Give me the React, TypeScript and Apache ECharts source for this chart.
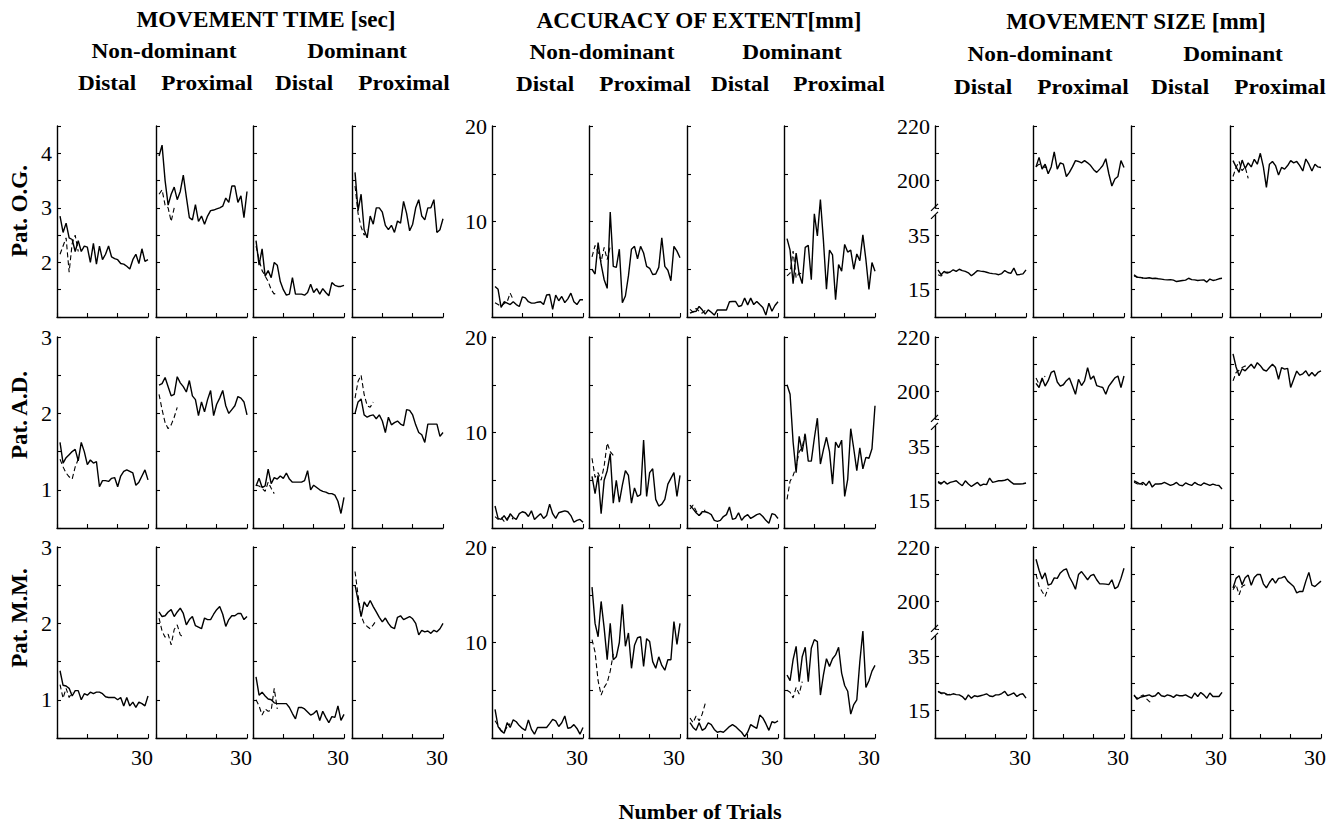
import React, { useEffect, useRef } from "react";
import * as echarts from "echarts";

const SERIF = "Liberation Serif, Times New Roman, serif";

const TRIALS = [1, 2, 3, 4, 5, 6, 7, 8, 9, 10, 11, 12, 13, 14, 15, 16, 17, 18, 19, 20, 21, 22, 23, 24, 25, 26, 27, 28, 29, 30];

const PATIENTS = ["Pat. O.G.", "Pat. A.D.", "Pat. M.M."];
const MEASURES = ["MOVEMENT TIME [sec]", "ACCURACY OF EXTENT[mm]", "MOVEMENT SIZE [mm]"];
const HANDS = ["Non-dominant", "Dominant"];
const JOINTS = ["Distal", "Proximal", "Distal", "Proximal"];
const X_LABELS: Record<string, string> = { "30": "30" };

// ---- Movement time [sec] ----
const MT_OG_SOLID = [
  [2.85, 2.55, 2.72, 2.45, 2.42, 2.2, 2.4, 2.2, 2.3, 2.28, 2.0, 2.35, 1.97, 2.3, 2.05, 2.15, 2.3, 2.1, 2.07, 2.05, 1.98, 1.97, 1.93, 1.88, 2.05, 2.15, 1.98, 2.25, 2.02, 2.05],
  [3.95, 4.15, 3.5, 3.05, 3.25, 3.38, 3.15, 3.3, 3.6, 3.2, 2.82, 2.78, 3.06, 2.75, 2.85, 2.7, 2.85, 2.95, 2.96, 2.98, 3.0, 3.03, 3.18, 3.1, 3.4, 3.4, 3.1, 3.22, 2.82, 3.3],
  [2.4, 1.95, 2.25, 1.75, 1.85, 1.72, 2.0, 1.95, 1.65, 1.5, 1.4, 1.42, 1.72, 1.42, 1.42, 1.42, 1.4, 1.45, 1.6, 1.45, 1.52, 1.42, 1.52, 1.45, 1.39, 1.63, 1.58, 1.56, 1.56, 1.58],
  [3.65, 2.95, 3.25, 2.6, 2.45, 2.85, 2.7, 3.0, 3.0, 2.92, 2.68, 2.6, 2.68, 2.55, 2.76, 2.72, 3.12, 2.9, 2.58, 2.7, 3.0, 3.15, 2.85, 2.78, 3.0, 3.0, 3.15, 2.55, 2.6, 2.8],
];
const MT_OG_DASH = [
  [2.15, 2.3, 2.45, 1.82, 2.35, 2.5, 2.2],
  [3.25, 3.33, 3.05, 3.0, 2.75, 3.0],
  [2.3, 2.05, 1.85, 1.75, 1.65, 1.5, 1.42, 1.45],
  [3.4, 2.9, 2.65, 2.5, 2.6],
];
const MT_AD_SOLID = [
  [1.62, 1.35, 1.42, 1.46, 1.5, 1.53, 1.38, 1.62, 1.5, 1.33, 1.39, 1.35, 1.37, 1.04, 1.12, 1.12, 1.11, 1.15, 1.16, 1.04, 1.18, 1.24, 1.26, 1.24, 1.22, 1.06, 1.1, 1.18, 1.26, 1.13],
  [2.37, 2.39, 2.47, 2.35, 2.23, 2.25, 2.48, 2.4, 2.35, 2.28, 2.43, 2.23, 2.18, 1.97, 2.15, 2.02, 2.18, 2.3, 1.97, 2.12, 2.2, 2.3, 2.1, 2.0, 2.05, 2.1, 2.22, 2.2, 2.15, 1.98],
  [1.05, 1.15, 1.03, 1.05, 1.27, 1.08, 1.16, 1.14, 1.18, 1.15, 1.22, 1.14, 1.1, 1.1, 1.1, 1.1, 1.12, 1.25, 1.0, 1.06, 1.03, 1.0, 0.98, 0.97, 0.95, 0.95, 0.93, 0.85, 0.69, 0.9],
  [2.0, 2.15, 2.19, 1.98, 1.95, 1.97, 1.98, 1.93, 1.98, 1.9, 1.75, 1.95, 1.85, 1.88, 1.9, 1.86, 1.84, 2.05, 2.04, 1.98, 1.85, 1.75, 1.72, 1.62, 1.86, 1.86, 1.86, 1.86, 1.7, 1.75],
];
const MT_AD_DASH = [
  [1.4, 1.3, 1.22, 1.17, 1.14, 1.3, 1.4],
  [2.25, 2.05, 1.88, 1.8, 1.85, 1.95, 2.08],
  [1.06, 1.05, 1.02, 0.98, 1.1, 1.02, 0.95],
  [2.2, 2.42, 2.5, 2.25, 2.1, 2.08, 2.15],
];
const MT_MM_SOLID = [
  [1.38, 1.19, 1.18, 1.15, 1.05, 1.12, 1.12, 1.0, 1.08, 1.06, 1.1, 1.08, 1.1, 1.1, 1.08, 1.04, 1.03, 1.03, 1.03, 1.0, 1.03, 0.92, 1.03, 0.92, 0.97, 0.9, 0.97, 0.95, 0.92, 1.05],
  [2.15, 2.09, 2.1, 2.15, 2.18, 2.09, 2.15, 2.2, 2.13, 1.98, 2.05, 2.09, 1.97, 1.95, 1.93, 2.07, 2.05, 2.05, 2.12, 2.18, 2.22, 2.12, 1.96, 2.05, 2.1, 2.1, 2.13, 2.13, 2.05, 2.09],
  [1.3, 1.06, 1.1, 1.05, 1.01, 1.0, 0.96, 0.95, 0.95, 0.95, 0.95, 0.9, 0.82, 0.75, 0.9, 0.9, 0.88, 0.84, 0.8, 0.82, 0.86, 0.73, 0.85, 0.77, 0.7, 0.78, 0.77, 0.92, 0.73, 0.81],
  [2.5, 2.3, 2.09, 2.28, 2.22, 2.3, 2.22, 2.15, 2.08, 2.02, 2.07, 2.0, 1.95, 1.93, 2.08, 2.1, 2.05, 2.07, 2.09, 2.06, 2.0, 1.85, 1.91, 1.89, 1.9, 1.87, 1.91, 1.89, 1.93, 2.0],
];
const MT_MM_DASH = [
  [1.2, 1.02, 1.15, 1.03, 1.1],
  [2.07, 1.9, 1.82, 1.86, 1.72, 1.92, 1.98, 1.85, 1.82],
  [1.0, 0.92, 0.8, 0.88, 0.85, 0.86, 1.15, 0.88],
  [2.68, 2.37, 2.1, 2.0, 1.96, 1.93, 1.98, 2.04],
];

// ---- Accuracy of extent [mm] ----
const ACC_OG_SOLID = [
  [3.2, 2.9, 1.0, 1.6, 1.45, 1.3, 1.6, 1.3, 1.1, 2.1, 2.0, 1.6, 1.45, 1.45, 1.55, 1.6, 1.3, 2.3, 2.35, 0.8, 2.3, 1.7, 2.15, 1.5, 1.9, 2.5, 1.6, 1.3, 1.8, 1.8],
  [5.0, 4.5, 7.8, 5.5, 3.9, 3.0, 11.0, 5.3, 5.2, 7.1, 1.5, 2.2, 4.3, 7.1, 7.4, 6.1, 7.4, 6.7, 5.3, 5.1, 4.45, 4.5, 5.2, 8.3, 5.3, 4.9, 3.8, 7.4, 6.9, 6.2],
  [0.4, 0.55, 0.6, 1.1, 0.75, 0.3, 0.75, 0.5, 0.2, 0.74, 0.74, 0.74, 0.74, 1.6, 1.63, 1.63, 1.1, 1.2, 1.98, 1.27, 1.98, 1.3, 1.63, 1.3, 1.0, 0.2, 1.45, 0.6, 1.2, 1.6],
  [8.2, 7.0, 3.5, 6.7, 4.5, 3.5, 7.3, 7.5, 3.9, 10.8, 8.5, 12.3, 8.0, 2.9, 7.0, 6.5, 1.8, 5.5, 4.8, 7.6, 6.8, 7.0, 5.0, 6.6, 5.9, 8.6, 6.0, 2.9, 5.7, 4.8],
];
const ACC_OG_DASH = [
  [1.5, 1.3, 1.1, 1.4, 1.6, 2.5, 1.8],
  [6.3, 7.5, 6.8, 5.8, 7.3, 6.0, 7.4],
  [0.8, 0.5, 0.9, 0.6, 0.4, 0.7],
  [4.3, 4.6, 6.9, 4.1, 4.6, 4.5],
];
const ACC_AD_SOLID = [
  [2.3, 1.0, 0.9, 1.3, 0.8, 1.5, 1.1, 0.9, 1.5, 1.7, 1.6, 1.2, 1.8, 0.9, 1.2, 1.5, 1.0, 1.3, 2.5, 1.5, 1.0, 1.6, 1.7, 1.8, 1.7, 1.3, 0.6, 0.8, 0.9, 0.6],
  [5.4, 3.6, 5.5, 1.5, 5.0, 6.0, 7.8, 2.6, 5.0, 2.7, 4.5, 6.0, 5.5, 2.6, 4.2, 3.3, 3.5, 9.2, 3.3, 5.8, 6.2, 3.0, 2.3, 2.5, 3.0, 4.6, 5.2, 5.8, 3.3, 5.5],
  [2.4, 2.0, 1.6, 1.3, 1.7, 1.7, 1.6, 1.4, 0.8, 0.7, 0.8, 1.2, 1.4, 2.2, 0.9, 1.0, 1.6, 0.8, 1.2, 1.4, 1.0, 1.2, 1.4, 1.5, 1.2, 0.8, 0.5, 1.5, 1.4, 1.0],
  [15.0, 14.0, 9.0, 5.8, 9.6, 8.0, 9.8, 7.0, 7.0, 9.4, 11.5, 6.7, 8.2, 9.5, 8.0, 4.6, 9.0, 8.4, 9.2, 3.3, 5.1, 10.4, 8.3, 6.0, 8.4, 6.2, 7.4, 7.3, 8.3, 12.8],
];
const ACC_AD_DASH = [
  [1.2, 0.9, 1.1, 0.7, 1.0, 1.3, 0.9],
  [7.3, 5.3, 5.8, 5.0, 6.5, 8.9, 8.0, 7.6],
  [2.0, 2.4, 1.8, 1.3, 1.6, 1.9],
  [3.0, 4.9, 5.5, 6.4, 8.0, 8.4, 10.0],
];
const ACC_MM_SOLID = [
  [3.0, 1.2, 0.75, 0.5, 1.6, 1.1, 1.9, 1.7, 1.3, 1.0, 0.8, 1.9, 0.9, 0.4, 1.1, 1.1, 1.1, 1.1, 1.5, 1.95, 1.8, 1.2, 1.6, 2.3, 1.0, 1.1, 1.4, 1.0, 0.4, 1.1],
  [15.8, 12.0, 10.6, 14.3, 11.5, 8.2, 12.0, 8.2, 8.5, 10.0, 14.0, 9.6, 11.0, 7.3, 9.7, 10.5, 10.6, 7.5, 10.4, 10.1, 8.0, 7.3, 8.5, 7.6, 7.1, 8.2, 8.2, 12.2, 9.8, 12.0],
  [1.6, 1.1, 0.8, 1.6, 0.8, 1.0, 1.6, 1.4, 0.9, 0.6, 0.7, 0.6, 0.9, 1.2, 1.4, 1.2, 0.9, 0.6, 0.15, 0.6, 1.4, 1.2, 1.0, 2.4, 2.1, 1.5, 0.8, 1.7, 1.6, 1.8],
  [6.6, 6.0, 8.2, 9.6, 5.9, 8.5, 9.5, 5.9, 9.4, 10.3, 10.1, 4.5, 6.6, 8.3, 7.5, 8.3, 8.7, 9.5, 6.8, 5.5, 4.9, 2.5, 3.5, 4.0, 8.0, 11.2, 5.3, 6.0, 7.0, 7.6],
];
const ACC_MM_DASH = [
  [1.8, 1.3, 0.8, 0.6, 1.2, 1.5],
  [10.3, 9.0, 6.0, 4.5, 5.3, 5.8, 7.0, 8.8],
  [2.1, 1.6, 2.3, 1.8, 2.5, 3.6],
  [5.0, 4.8, 4.2, 5.3, 4.6, 5.9],
];

// ---- Movement size [mm] (broken axis: 5-45 / 190-220) ----
const MS_OG_SOLID = [
  [22.3, 20.5, 21.7, 21.1, 21.5, 22.3, 21.7, 22.5, 22.0, 21.7, 21.2, 20.1, 21.0, 22.0, 21.8, 21.7, 21.4, 21.1, 20.9, 20.8, 20.5, 20.9, 22.0, 21.3, 21.0, 22.9, 20.5, 20.6, 20.8, 22.3],
  [205, 208.5, 204.2, 206, 202.5, 205, 210.5, 204.2, 206.5, 206, 201.5, 203, 205, 207.3, 207, 206.5, 207.3, 206.5, 205.5, 204, 203, 204.2, 205.5, 208, 202.5, 198, 200.6, 201.5, 207.3, 204.8],
  [20.5, 19.6, 19.5, 19.3, 19.2, 19.4, 19.1, 19.2, 19.0, 18.9, 18.7, 18.6, 18.7, 18.5, 18.0, 18.2, 18.4, 18.5, 19.2, 18.7, 18.6, 18.4, 18.5, 18.6, 17.8, 18.9, 18.4, 18.6, 19.0, 19.2],
  [207.3, 205, 203, 207.5, 204.5, 206.5, 205, 207.8, 206, 210, 205, 197.5, 206, 207, 205.5, 202, 204.8, 204.2, 205.5, 207.3, 206.5, 207, 205.5, 203.5, 207.9, 206, 203.5, 206, 205, 204.8],
];
const MS_OG_DASH = [
  [20.5, 20.0, 21.0, 21.5, 21.2],
  [205, 206, 205.5, 204.8, 205],
  [20.0, 19.6, 19.4, 19.3],
  [201.5, 204.8, 207, 203.6, 205, 200.8],
];
const MS_AD_SOLID = [
  [21.7, 21.1, 22.1, 21.1, 21.7, 22.0, 22.3, 21.3, 20.5, 22.3, 21.1, 20.2, 21.0, 21.7, 20.5, 21.1, 20.9, 23.3, 21.7, 22.0, 22.3, 22.3, 22.5, 22.9, 21.9, 21.1, 21.1, 21.1, 21.2, 21.5],
  [203, 201.5, 205, 202, 204, 207, 207.6, 203.5, 202, 202.5, 204, 205, 202, 199, 204.5, 202.2, 203.9, 208.8, 204.5, 205.7, 202.2, 201.8, 201.5, 199, 202, 203.5, 205, 205.7, 201.5, 205.7],
  [22.3, 21.7, 21.1, 21.7, 20.6, 22.2, 20.0, 21.1, 21.1, 21.2, 21.7, 21.2, 20.6, 21.0, 21.7, 20.7, 20.5, 21.5, 21.0, 20.6, 21.7, 21.0, 20.6, 21.5, 21.1, 20.6, 21.1, 20.7, 20.6, 19.3],
  [213.8, 209, 205.8, 208.3, 207.6, 208.8, 210, 208.5, 210.6, 209.5, 208, 207.5, 208.8, 210, 208.8, 204.5, 208.8, 208.2, 208.5, 201.5, 204.5, 207.5, 206, 206.5, 207.6, 205.7, 207, 205.7, 207, 207.6],
];
const MS_AD_DASH = [
  [22.0, 21.5, 21.8, 21.2],
  [205, 202.7, 204, 205.7],
  [21.8, 21.2, 20.8, 21.0],
  [203.9, 207, 207.8, 208.8, 209.4, 208.8],
];
const MS_MM_SOLID = [
  [22.1, 21.5, 21.5, 21.0, 20.8, 21.2, 20.9, 20.8, 20.2, 19.0, 20.8, 19.6, 20.5, 20.2, 20.5, 20.8, 21.2, 20.4, 20.2, 20.8, 20.8, 21.3, 22.1, 20.5, 21.0, 21.5, 20.2, 21.0, 21.2, 19.6],
  [215.5, 211.5, 208.3, 210.5, 206, 206.5, 208.7, 208.5, 210.5, 211.5, 212, 209, 207, 204.5, 209.9, 211, 209.5, 208, 209.5, 210, 208, 206.5, 206.5, 206.4, 206.2, 208, 204.7, 205.5, 208.5, 212.2],
  [20.8, 19.2, 19.9, 20.2, 20.5, 20.8, 20.2, 20.5, 21.7, 20.5, 20.2, 20.8, 20.5, 19.9, 20.8, 20.5, 20.5, 20.8, 20.2, 19.6, 21.5, 20.2, 21.7, 20.8, 19.6, 21.5, 20.2, 20.2, 20.2, 21.7],
  [205, 208.5, 209.5, 206.2, 208.7, 209.7, 206, 208.8, 209.9, 209.9, 206.5, 205, 207, 208.5, 206.8, 208.5, 208.7, 209.2, 207.5, 206.5, 205.5, 203.2, 203.7, 203.7, 207.5, 210.7, 206, 205.5, 206.5, 207.5],
];
const MS_MM_DASH = [
  [22.0, 21.3, 21.0, 20.8, 21.0],
  [210, 205.6, 203.7, 201.9, 205],
  [20.5, 19.6, 20.2, 20.8, 19.5, 18.4, 17.7],
  [204.3, 206.2, 202.5, 205.6, 206.2],
];

// y tick labels shown on the first panel of each group
const MT_LABELS_ROW1: Record<string, string> = { "2": "2", "3": "3", "4": "4" };
const MT_LABELS: Record<string, string> = { "1": "1", "2": "2", "3": "3" };
const ACC_LABELS: Record<string, string> = { "10": "10", "20": "20" };
const MS_LABELS: Record<string, string> = { "10": "15", "30": "35", "50": "200", "70": "220" };

const SOLID = [
  [MT_OG_SOLID, MT_AD_SOLID, MT_MM_SOLID],
  [ACC_OG_SOLID, ACC_AD_SOLID, ACC_MM_SOLID],
  [MS_OG_SOLID, MS_AD_SOLID, MS_MM_SOLID],
];
const DASH = [
  [MT_OG_DASH, MT_AD_DASH, MT_MM_DASH],
  [ACC_OG_DASH, ACC_AD_DASH, ACC_MM_DASH],
  [MS_OG_DASH, MS_AD_DASH, MS_MM_DASH],
];

// broken movement-size axis: low part (5..45) and high part (190..220)
const msAxis = (v: number) => (v > 100 ? v - 150 : v - 5);

// layout
const GROUP_LEFTS = [
  [57, 156, 253, 352],
  [492, 589, 687, 784],
  [935, 1033, 1131, 1230],
];
const PANEL_W = 91;
const ROW_TOPS = [126, 337, 547];
const PANEL_H = 191;

function yAxisSpec(m: number, r: number) {
  if (m === 0) {
    if (r === 0) return { min: 1, max: 4.5, interval: 0.5, labels: MT_LABELS_ROW1 };
    return { min: 0.5, max: 3, interval: 0.5, labels: MT_LABELS };
  }
  if (m === 1) return { min: 0, max: 20, interval: 5, labels: ACC_LABELS };
  return { min: 0, max: 70, interval: 10, labels: MS_LABELS };
}

function buildOption() {
  const grid: any[] = [];
  const xAxis: any[] = [];
  const yAxis: any[] = [];
  const series: any[] = [];
  const graphic: any[] = [];
  let idx = 0;
  for (let m = 0; m < 3; m++) {
    for (let r = 0; r < 3; r++) {
      for (let p = 0; p < 4; p++) {
        const spec = yAxisSpec(m, r);
        grid.push({ left: GROUP_LEFTS[m][p], top: ROW_TOPS[r], width: PANEL_W, height: PANEL_H, containLabel: false });
        xAxis.push({
          gridIndex: idx,
          type: "value",
          min: 0,
          max: 30,
          interval: 10,
          axisLine: { show: true, onZero: false, lineStyle: { color: "#000", width: 1.4 } },
          axisTick: { show: true, inside: true, length: 4, lineStyle: { color: "#000", width: 1.1 } },
          axisLabel: {
            show: r === 2,
            formatter: (v: number) => X_LABELS[String(v)] ?? "",
            fontSize: 22,
            fontFamily: SERIF,
            color: "#000",
            margin: 8,
            padding: [0, 12, 0, 0],
          },
          splitLine: { show: false },
        });
        yAxis.push({
          gridIndex: idx,
          type: "value",
          min: spec.min,
          max: spec.max,
          interval: spec.interval,
          axisLine: { show: true, onZero: false, lineStyle: { color: "#000", width: 1.4 } },
          axisTick: { show: true, inside: true, length: 4, lineStyle: { color: "#000", width: 1.1 } },
          axisLabel: {
            show: p === 0,
            formatter: (v: number) => spec.labels[String(v)] ?? "",
            fontSize: 22,
            fontFamily: SERIF,
            color: "#000",
            margin: 5,
          },
          splitLine: { show: false },
        });
        const f = (v: number) => (m === 2 ? msAxis(v) : v);
        const solid = SOLID[m][r][p];
        const dash = DASH[m][r][p];
        series.push({
          type: "line",
          xAxisIndex: idx,
          yAxisIndex: idx,
          data: solid.map((v, k) => [TRIALS[k], f(v)]),
          showSymbol: false,
          symbol: "none",
          lineStyle: { color: "#000", width: 1.4 },
          silent: true,
          z: 3,
        });
        series.push({
          type: "line",
          xAxisIndex: idx,
          yAxisIndex: idx,
          data: dash.map((v, k) => [TRIALS[k], f(v)]),
          showSymbol: false,
          symbol: "none",
          lineStyle: { color: "#000", width: 1.1, type: [5, 3] },
          silent: true,
          z: 2,
        });
        idx++;
      }
    }
  }

  const bold = (text: string, x: number, y: number, size: number, sx = 1.06) => ({
    type: "text",
    x,
    y,
    scaleX: sx,
    z: 100,
    style: { text, fontSize: size, fontWeight: "bold", fontFamily: SERIF, fill: "#000", align: "center", verticalAlign: "middle" },
  });

  const titleX = [266, 699, 1136];
  const titleY = [20, 21, 22];
  const handX = [
    [164, 357],
    [602, 792],
    [1040, 1233],
  ];
  const handY = [51, 52, 54];
  const jointX = [
    [107, 207, 304, 404],
    [545, 645, 740, 839],
    [983, 1083, 1180, 1280],
  ];
  const jointY = [83, 84, 87];
  for (let m = 0; m < 3; m++) {
    graphic.push(bold(MEASURES[m], titleX[m], titleY[m], 22.5, 1.03));
    HANDS.forEach((h, i) => graphic.push(bold(h, handX[m][i], handY[m], 22)));
    JOINTS.forEach((j, i) => graphic.push(bold(j, jointX[m][i], jointY[m], 22)));
  }
  const patY = [211, 415, 618];
  PATIENTS.forEach((pt, r) => {
    graphic.push({
      type: "text",
      x: 19,
      y: patY[r],
      rotation: Math.PI / 2,
      z: 100,
      style: { text: pt, fontSize: 23, fontWeight: "bold", fontFamily: SERIF, fill: "#000", align: "center", verticalAlign: "middle" },
    });
  });
  graphic.push(bold("Number of Trials", 700, 812, 21));

  // axis-break marks on the movement size axes
  for (let r = 0; r < 3; r++) {
    const ax = GROUP_LEFTS[2][0];
    const yb = ROW_TOPS[r] + PANEL_H * (30 / 70) + 4;
    graphic.push({ type: "rect", z: 100, shape: { x: ax - 3, y: yb - 3, width: 6, height: 6 }, style: { fill: "#fff" } });
    graphic.push({ type: "line", z: 101, shape: { x1: ax - 4, y1: yb - 1, x2: ax + 3, y2: yb - 8 }, style: { stroke: "#000", lineWidth: 1.3 } });
    graphic.push({ type: "line", z: 101, shape: { x1: ax - 4, y1: yb + 7, x2: ax + 3, y2: yb }, style: { stroke: "#000", lineWidth: 1.3 } });
  }

  return {
    animation: false,
    backgroundColor: "#fff",
    grid,
    xAxis,
    yAxis,
    series,
    graphic,
  };
}

export default function App() {
  const ref = useRef<HTMLDivElement>(null);
  useEffect(() => {
    if (!ref.current) return;
    const chart = echarts.init(ref.current, undefined, { renderer: "svg" });
    chart.setOption(buildOption() as any);
    return () => chart.dispose();
  }, []);
  return <div ref={ref} style={{ position: "absolute", left: 0, top: 0, width: 1342, height: 830, background: "#fff" }} />;
}
